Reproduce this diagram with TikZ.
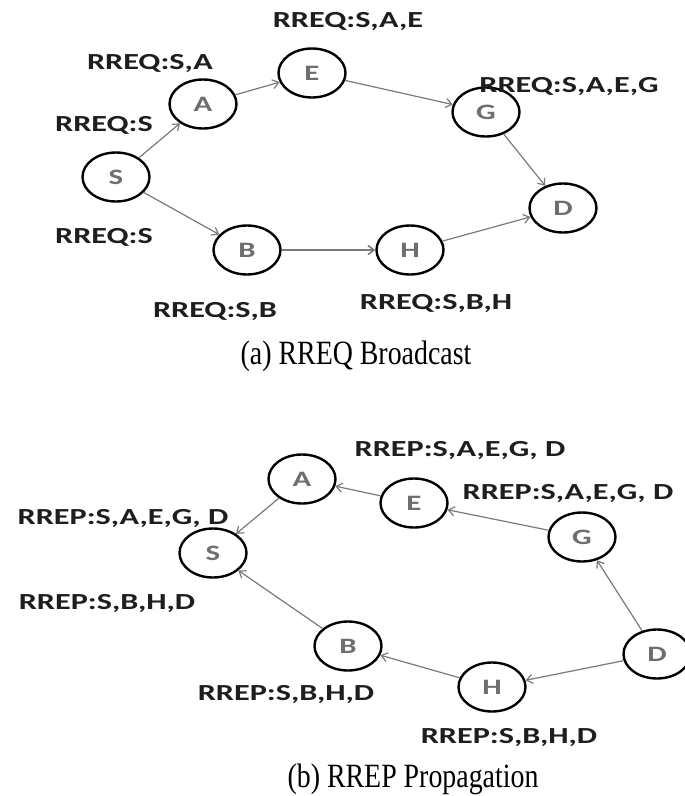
\documentclass[tikz,border=0pt]{standalone}
\usepackage{fontspec}
\usepackage{graphicx}
\usetikzlibrary{shapes.geometric,arrows.meta}
\newfontfamily\lblfont{Carlito}
\newfontfamily\capfont{Liberation Serif}
\newcommand{\lbl}[1]{\scalebox{1.4}[1]{\lblfont\bfseries #1}}
\newcommand{\captxt}[1]{\scalebox{0.82}[1]{\capfont #1}}
\definecolor{edgegray}{HTML}{7A7A7A}
\definecolor{lettergray}{HTML}{6E6E6E}
\definecolor{labelcol}{HTML}{1E1E1E}
\tikzset{
  vtx/.style={ellipse, draw=black, line width=2.4pt, minimum width=67pt, minimum height=49pt,
    inner sep=0pt, text=lettergray, font=\fontsize{22}{22}\selectfont},
  lab/.style={anchor=base, inner sep=0pt, text=labelcol, font=\fontsize{23}{23}\selectfont},
  capt/.style={anchor=base, inner sep=0pt, text=black, font=\fontsize{34}{34}\selectfont},
  link/.style={draw=edgegray, line width=1.2pt, -{Straight Barb[length=6pt,width=9pt]}},
}
\begin{document}
\begin{tikzpicture}[x=1pt,y=-1pt]
\fill[white] (0,0) rectangle (685,796);
\useasboundingbox (0,0) rectangle (685,796);

% ---------- (a) RREQ Broadcast ----------
\node[vtx] (aS) at (116,177) {\lbl{S}};
\node[vtx] (aA) at (203,104) {\lbl{A}};
\node[vtx] (aE) at (312,73)  {\lbl{E}};
\node[vtx] (aG) at (486,112) {\lbl{G}};
\node[vtx] (aD) at (563,208) {\lbl{D}};
\node[vtx] (aB) at (247,250) {\lbl{B}};
\node[vtx] (aH) at (410,250) {\lbl{H}};

\draw[link] (aS) -- (aA);
\draw[link] (aA) -- (aE);
\draw[link] (aE) -- (aG);
\draw[link] (aG) -- (aD);
\draw[link] (aS) -- (aB);
\draw[link, line width=1.6pt] (aB) -- (aH);
\draw[link] (aH) -- (aD);

\node[lab] (la1) at (348,27.5)  {\lbl{RREQ:S,A,E}};
\node[lab] (la2) at (150,69.5)  {\lbl{RREQ:S,A}};
\node[lab] (la3) at (104,131.5) {\lbl{RREQ:S}};
\node[lab] (la4) at (569,92.5)  {\lbl{RREQ:S,A,E,G}};
\node[lab] (la5) at (104,243.5) {\lbl{RREQ:S}};
\node[lab] (la6) at (215,317.5) {\lbl{RREQ:S,B}};
\node[lab] (la7) at (436,309.5) {\lbl{RREQ:S,B,H}};
\node[capt] (capa) at (356,364) {\captxt{(a) RREQ Broadcast}};

% ---------- (b) RREP Propagation ----------
\node[vtx] (bA) at (302,479) {\lbl{A}};
\node[vtx] (bE) at (414,503) {\lbl{E}};
\node[vtx] (bS) at (213,553) {\lbl{S}};
\node[vtx] (bG) at (582,537) {\lbl{G}};
\node[vtx] (bB) at (348,646) {\lbl{B}};
\node[vtx] (bH) at (492,687) {\lbl{H}};
\node[vtx] (bD) at (657,654) {\lbl{D}};

\draw[link] (bA) -- (bS);
\draw[link] (bE) -- (bA);
\draw[link] (bG) -- (bE);
\draw[link] (bD) -- (bG);
\draw[link] (bB) -- (bS);
\draw[link] (bH) -- (bB);
\draw[link] (bD) -- (bH);

\node[lab] (lb1) at (460,456.5) {\lbl{RREP:S,A,E,G, D}};
\node[lab] (lb2) at (568,499.5) {\lbl{RREP:S,A,E,G, D}};
\node[lab] (lb3) at (123,524.5) {\lbl{RREP:S,A,E,G, D}};
\node[lab] (lb4) at (107,609.5) {\lbl{RREP:S,B,H,D}};
\node[lab] (lb5) at (286,700.5) {\lbl{RREP:S,B,H,D}};
\node[lab] (lb6) at (509,743.5) {\lbl{RREP:S,B,H,D}};
\node[capt] (capb) at (413,787) {\captxt{(b) RREP Propagation}};
\end{tikzpicture}
\end{document}
